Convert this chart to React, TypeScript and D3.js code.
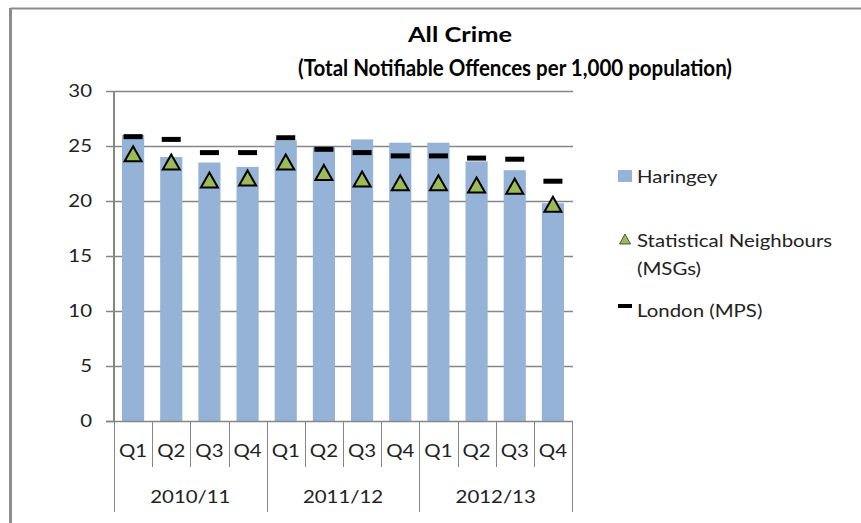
import React from "react";
import * as d3 from "d3";

const quarters = ["Q1", "Q2", "Q3", "Q4", "Q1", "Q2", "Q3", "Q4", "Q1", "Q2", "Q3", "Q4"];
const years = ["2010/11", "2011/12", "2012/13"];
const haringey = [26.0, 24.0, 23.5, 23.1, 25.5, 24.9, 25.6, 25.3, 25.3, 23.6, 22.8, 19.8];
const neighbours = [24.3, 23.55, 21.9, 22.1, 23.55, 22.6, 22.0, 21.65, 21.65, 21.45, 21.35, 19.7];
const london = [25.85, 25.6, 24.4, 24.4, 25.75, 24.7, 24.4, 24.1, 24.1, 23.9, 23.8, 21.8];
const yTicks = [0, 5, 10, 15, 20, 25, 30];

const W = 861;
const H = 523;
const FONT = "Lato, 'Open Sans', sans-serif";
const GRID = "#868686";
const BAR = "#95B3D7";
const GREEN = "#9BBB59";
const SX = 1.2;

function T({ x, y, anchor = "start", dy, children }: { x: number; y: number; anchor?: string; dy?: string; children: React.ReactNode }) {
  return (
    <text transform={`translate(${x},${y}) scale(${SX},1)`} dy={dy} textAnchor={anchor as any} fontSize={17} fill="#222">
      {children}
    </text>
  );
}

export default function App() {
  const left = 114;
  const right = 572;
  const top = 91;
  const bottom = 421;
  const idx = haringey.map((_, i) => i);
  const x = d3.scaleBand<number>().domain(idx).range([left, right]).paddingInner(0.42).paddingOuter(0.21);
  const y = d3.scaleLinear().domain([0, 30]).range([bottom, top]);
  const step = (right - left) / quarters.length;
  const cx = (i: number) => (x(i) as number) + x.bandwidth() / 2;
  const tri = (px: number, py: number, w: number, h: number) =>
    `M${px},${py - h / 2}L${px + w / 2},${py + h / 2}L${px - w / 2},${py + h / 2}Z`;

  return (
    <svg width={W} height={H} style={{ position: "absolute", left: 0, top: 0, background: "#fff" }} fontFamily={FONT}>
      {/* frame */}
      <line x1={10.5} x2={W} y1={8.5} y2={8.5} stroke="#8c8c8c" strokeWidth={2} />
      <line x1={10.5} x2={10.5} y1={8} y2={H} stroke="#8c8c8c" strokeWidth={3} />

      {/* title */}
      <text x={460} y={42} textAnchor="middle" fontSize={21} fontWeight="bold" fill="#000" textLength={104} lengthAdjust="spacingAndGlyphs">All Crime</text>
      <text x={515} y={76} textAnchor="middle" fontSize={22} fontWeight="bold" fill="#000" textLength={434} lengthAdjust="spacingAndGlyphs">(Total Notifiable Offences per 1,000 population)</text>

      {/* gridlines */}
      {yTicks.slice(1).map((t) => (
        <line key={"g" + t} x1={left} x2={right + 1} y1={Math.round(y(t)) + 0.5} y2={Math.round(y(t)) + 0.5} stroke={GRID} strokeWidth={1.5} />
      ))}
      {/* y ticks and labels */}
      {yTicks.map((t) => (
        <g key={"t" + t}>
          <line x1={106} x2={left} y1={Math.round(y(t)) + 0.5} y2={Math.round(y(t)) + 0.5} stroke={GRID} strokeWidth={1.5} />
          <T x={92} y={y(t)} dy="0.35em" anchor="end">{t}</T>
        </g>
      ))}

      {/* bars */}
      {haringey.map((v, i) => (
        <rect key={"b" + i} x={x(i)} y={y(v)} width={x.bandwidth()} height={bottom - y(v)} fill={BAR} />
      ))}

      {/* axes */}
      <line x1={left} x2={left} y1={top} y2={bottom} stroke={GRID} strokeWidth={2} />
      <line x1={106} x2={right + 1} y1={bottom + 0.5} y2={bottom + 0.5} stroke={GRID} strokeWidth={1.5} />

      {/* London dashes */}
      {london.map((v, i) => (
        <rect key={"l" + i} x={cx(i) - 9.5} y={y(v) - 2.5} width={19} height={5} fill="#000" />
      ))}
      {/* neighbours triangles */}
      {neighbours.map((v, i) => (
        <path key={"n" + i} d={tri(cx(i), y(v), 17, 15)} fill={GREEN} stroke="#000" strokeWidth={2} strokeLinejoin="miter" />
      ))}

      {/* category axis */}
      {d3.range(quarters.length + 1).map((k) => {
        const isYear = k % 4 === 0;
        const xx = Math.round(left + k * step) + 0.5;
        return <line key={"d" + k} x1={xx} x2={xx} y1={bottom} y2={isYear ? 512 : 467} stroke={GRID} strokeWidth={1} />;
      })}
      {quarters.map((q, i) => (
        <T key={"q" + i} x={left + (i + 0.5) * step} y={451} dy="0.35em" anchor="middle">{q}</T>
      ))}
      {years.map((yr, j) => (
        <T key={"y" + j} x={left + (j * 4 + 2) * step} y={497} dy="0.35em" anchor="middle">{yr}</T>
      ))}

      {/* legend */}
      <rect x={618} y={170} width={14} height={12} fill={BAR} />
      <T x={637} y={183}>Haringey</T>
      <path d={tri(625, 239, 11, 10)} fill={GREEN} stroke="#333" strokeWidth={0.8} />
      <T x={637} y={247}>Statistical Neighbours</T>
      <T x={637} y={275}>(MSGs)</T>
      <rect x={618} y={304} width={14} height={4} fill="#000" />
      <T x={637} y={317}>London (MPS)</T>
    </svg>
  );
}
